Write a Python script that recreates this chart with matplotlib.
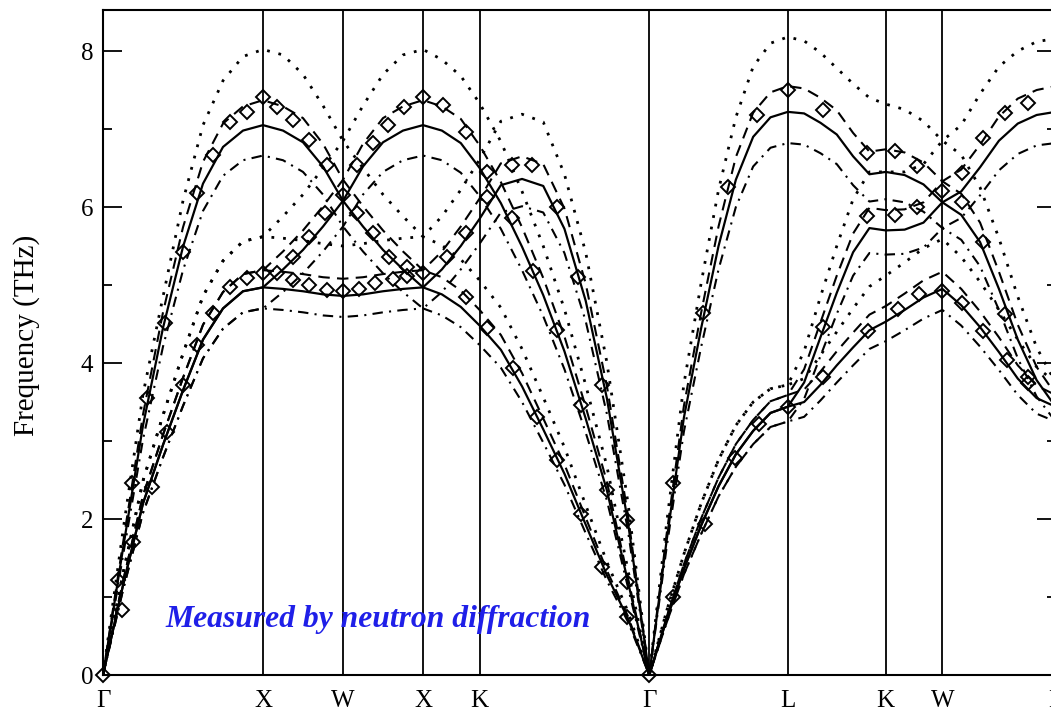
import numpy as np
import matplotlib.pyplot as plt
from matplotlib.ticker import MultipleLocator

plt.rcParams['font.family'] = ['Liberation Serif', 'DejaVu Serif']

# high-symmetry points along the path and sample counts per segment
sym_k = [0, 1, 1.5, 2, 2.354, 3.414, 4.280, 4.892, 5.246, 5.953]
sym_lab = ['Γ', 'X', 'W', 'X', 'K', 'Γ', 'L', 'K', 'W', 'L']
n_sub = [8, 4, 4, 3, 8, 8, 6, 3, 6]

k = [0.0]
for a, b, n in zip(sym_k[:-1], sym_k[1:], n_sub):
    k += list(np.linspace(a, b, n + 1)[1:])
k = np.array(k)

# three branches (a, b, c) for each calculation, values in THz
solid_a = [0, 1.62, 3.2, 4.45, 5.49, 6.3, 6.77, 6.98, 7.05,
           6.98, 6.83, 6.52, 6.08,
           5.75, 5.45, 5.2, 4.97,
           5.2, 5.5, 5.85,
           6.28, 6.36, 6.27, 5.72, 4.8, 3.55, 1.95, 0,
           1.72, 3.3, 4.45, 5.5, 6.35, 6.9, 7.15, 7.22,
           7.2, 7.08, 6.93, 6.65, 6.42, 6.45,
           6.41, 6.29, 6.06,
           5.9, 5.55, 4.95, 4.3, 3.78, 3.44]
solid_b = [0, 1.15, 2.2, 2.95, 3.65, 4.3, 4.7, 4.92, 4.97,
           5.2, 5.45, 5.75, 6.08,
           6.52, 6.83, 6.98, 7.05,
           6.98, 6.82, 6.5,
           6.05, 5.49, 4.87, 4.15, 3.29, 2.37, 1.19, 0,
           0.71, 1.36, 1.92, 2.42, 2.83, 3.13, 3.36, 3.44,
           3.75, 4.33, 4.9, 5.42, 5.73, 5.7,
           5.71, 5.8, 6.06,
           6.2, 6.51, 6.85, 7.07, 7.18, 7.22]
solid_c = [0, 1.15, 2.2, 2.95, 3.65, 4.3, 4.7, 4.92, 4.97,
           4.95, 4.92, 4.88, 4.86,
           4.88, 4.92, 4.95, 4.97,
           4.88, 4.72, 4.48,
           4.17, 3.7, 3.15, 2.58, 1.93, 1.28, 0.72, 0,
           0.71, 1.36, 1.92, 2.42, 2.83, 3.13, 3.36, 3.44,
           3.5, 3.72, 3.97, 4.2, 4.42, 4.53,
           4.68, 4.84, 4.95,
           4.74, 4.46, 4.14, 3.8, 3.55, 3.44]

dot_a = [0, 1.85, 3.6, 4.85, 6.08, 7.05, 7.62, 7.93, 8.02,
         7.95, 7.7, 7.3, 6.85,
         6.5, 6.16, 5.88, 5.62,
         5.88, 6.22, 6.61,
         7.1, 7.19, 7.09, 6.42, 5.42, 4.01, 2.2, 0,
         1.94, 3.73, 5.03, 6.22, 7.15, 7.8, 8.1, 8.18,
         8.13, 7.98, 7.78, 7.58, 7.4, 7.32,
         7.25, 7.1, 6.85,
         6.67, 6.25, 5.6, 4.85, 4.2, 3.75]
dot_b = [0, 1.3, 2.49, 3.33, 4.12, 4.86, 5.31, 5.56, 5.62,
         5.88, 6.16, 6.5, 6.85,
         7.3, 7.7, 7.95, 8.02,
         7.89, 7.68, 7.33,
         6.84, 6.2, 5.5, 4.69, 3.72, 2.68, 1.34, 0,
         0.82, 1.55, 2.2, 2.76, 3.2, 3.5, 3.67, 3.72,
         4.15, 4.85, 5.5, 6.1, 6.45, 6.45,
         6.45, 6.55, 6.85,
         7.05, 7.45, 7.8, 8.0, 8.12, 8.16]
dot_c = [0, 1.3, 2.49, 3.33, 4.12, 4.86, 5.31, 5.56, 5.62,
         5.6, 5.57, 5.53, 5.5,
         5.53, 5.57, 5.6, 5.62,
         5.51, 5.33, 5.06,
         4.71, 4.18, 3.56, 2.92, 2.18, 1.45, 0.81, 0,
         0.82, 1.55, 2.2, 2.76, 3.2, 3.5, 3.67, 3.72,
         3.8, 4.1, 4.4, 4.7, 4.98, 5.12,
         5.29, 5.47, 5.59,
         5.36, 5.04, 4.68, 4.3, 3.95, 3.75]

dash_a = [0, 1.69, 3.34, 4.65, 5.74, 6.58, 7.07, 7.29, 7.37,
          7.29, 7.14, 6.81, 6.35,
          6.01, 5.7, 5.43, 5.19,
          5.43, 5.75, 6.11,
          6.56, 6.65, 6.55, 5.98, 5.02, 3.71, 2.04, 0,
          1.8, 3.45, 4.65, 5.75, 6.64, 7.21, 7.47, 7.55,
          7.52, 7.4, 7.24, 6.95, 6.71, 6.74,
          6.7, 6.57, 6.33,
          6.17, 5.8, 5.17, 4.49, 3.95, 3.6]
dash_b = [0, 1.2, 2.3, 3.08, 3.81, 4.49, 4.91, 5.14, 5.19,
          5.43, 5.7, 6.01, 6.35,
          6.81, 7.14, 7.29, 7.37,
          7.29, 7.13, 6.79,
          6.32, 5.74, 5.09, 4.34, 3.44, 2.48, 1.24, 0,
          0.74, 1.42, 2.01, 2.53, 2.96, 3.27, 3.51, 3.59,
          3.92, 4.52, 5.12, 5.66, 5.99, 5.96,
          5.97, 6.06, 6.33,
          6.48, 6.8, 7.16, 7.39, 7.5, 7.55]
dash_c = [0, 1.2, 2.3, 3.08, 3.81, 4.49, 4.91, 5.14, 5.19,
          5.17, 5.14, 5.1, 5.08,
          5.1, 5.14, 5.17, 5.19,
          5.1, 4.93, 4.68,
          4.36, 3.87, 3.29, 2.7, 2.02, 1.34, 0.75, 0,
          0.74, 1.42, 2.01, 2.53, 2.96, 3.27, 3.51, 3.59,
          3.66, 3.89, 4.15, 4.39, 4.62, 4.73,
          4.89, 5.06, 5.17,
          4.95, 4.66, 4.33, 3.97, 3.71, 3.59]

dd_a = [0, 1.53, 3.02, 4.21, 5.19, 5.95, 6.4, 6.6, 6.66,
        6.6, 6.45, 6.16, 5.75,
        5.43, 5.15, 4.91, 4.7,
        4.91, 5.2, 5.53,
        5.93, 6.01, 5.93, 5.41, 4.54, 3.35, 1.84, 0,
        1.63, 3.12, 4.21, 5.2, 6.0, 6.52, 6.76, 6.82,
        6.8, 6.69, 6.55, 6.28, 6.07, 6.1,
        6.06, 5.94, 5.73,
        5.58, 5.24, 4.68, 4.06, 3.57, 3.25]
dd_b = [0, 1.09, 2.08, 2.79, 3.45, 4.06, 4.44, 4.65, 4.7,
        4.91, 5.15, 5.43, 5.75,
        6.16, 6.45, 6.6, 6.66,
        6.6, 6.44, 6.14,
        5.72, 5.19, 4.6, 3.92, 3.11, 2.24, 1.12, 0,
        0.67, 1.29, 1.81, 2.29, 2.67, 2.96, 3.18, 3.25,
        3.54, 4.09, 4.63, 5.12, 5.41, 5.39,
        5.4, 5.48, 5.73,
        5.86, 6.15, 6.47, 6.68, 6.79, 6.82]
dd_c = [0, 1.09, 2.08, 2.79, 3.45, 4.06, 4.44, 4.65, 4.7,
        4.68, 4.65, 4.61, 4.59,
        4.61, 4.65, 4.68, 4.7,
        4.61, 4.46, 4.23,
        3.94, 3.5, 2.98, 2.44, 1.82, 1.21, 0.68, 0,
        0.67, 1.29, 1.81, 2.29, 2.67, 2.96, 3.18, 3.25,
        3.31, 3.52, 3.75, 3.97, 4.18, 4.28,
        4.42, 4.57, 4.68,
        4.48, 4.21, 3.91, 3.59, 3.35, 3.25]

# neutron data (diamonds)
exp_k = [0, 0.094, 0.181, 0.275, 0.388, 0.5, 0.588, 0.688, 0.794, 0.9, 1.0,
         0.119, 0.188, 0.306, 0.4, 0.5, 0.588, 0.688, 0.794, 0.9, 1.0,
         1.09, 1.19, 1.29, 1.4, 1.5, 1.19, 1.29, 1.39,
         1.09, 1.19, 1.29, 1.4, 1.5,
         1.59, 1.69, 1.78, 1.88, 2.0, 1.59, 1.69, 1.79, 1.9, 2.0,
         1.6, 1.7, 1.81, 1.9,
         2.125, 2.27, 2.4, 2.15, 2.27, 2.4, 2.27, 2.4,
         2.556, 2.684, 2.8375, 2.97, 3.12, 3.275,
         2.556, 2.69, 2.8375, 2.99, 3.15, 3.275,
         2.5625, 2.7125, 2.84, 2.99, 3.12, 3.275, 3.414,
         3.5625, 3.75, 3.906, 4.0875, 4.28,
         3.5625, 3.76, 3.95, 4.1, 4.28,
         4.5, 4.775, 4.95, 5.09, 5.246,
         4.5, 4.775, 4.95, 5.09,
         4.5, 4.78, 4.97, 5.1, 5.246,
         5.37, 5.5, 5.64, 5.78, 5.37, 5.5, 5.64, 5.78,
         5.37, 5.5, 5.65, 5.78]
exp_f = [0, 1.22, 2.46, 3.55, 4.51, 5.42, 6.18, 6.67, 7.09, 7.22, 7.41,
         0.83, 1.7, 2.41, 3.12, 3.72, 4.23, 4.64, 4.97, 5.09, 5.15,
         7.28, 7.12, 6.86, 6.54, 6.15, 5.36, 5.62, 5.92,
         5.15, 5.06, 5.0, 4.94, 4.92,
         6.54, 6.82, 7.05, 7.28, 7.41, 5.92, 5.67, 5.36, 5.23, 5.15,
         4.95, 5.02, 5.08, 5.12,
         7.31, 6.96, 6.45, 5.36, 5.67, 6.13, 4.85, 4.45,
         6.54, 6.54, 6.0, 5.1, 3.72, 1.99,
         5.86, 5.18, 4.42, 3.46, 2.37, 1.19,
         3.94, 3.31, 2.76, 2.06, 1.39, 0.75, 0,
         2.46, 4.64, 6.26, 7.18, 7.5,
         1.0, 1.94, 2.78, 3.22, 3.44,
         7.24, 6.69, 6.72, 6.52, 6.2,
         4.46, 5.88, 5.9, 6.0,
         3.82, 4.41, 4.69, 4.88, 4.92,
         6.44, 6.88, 7.2, 7.34, 6.07, 5.55, 4.63, 3.82,
         4.77, 4.41, 4.04, 3.75]

fig = plt.figure(figsize=(10.51, 7.16), dpi=100)
ax = fig.add_axes([103 / 1051, 41 / 716, 952.5 / 1051, 665 / 716])

for xk in sym_k:
    ax.axvline(xk, color='k', lw=1.3, zorder=1)

for y in (dot_a, dot_b, dot_c):
    ax.plot(k, y, color='k', lw=2.0, ls=(0, (1, 3.2)), zorder=2)
for y in (dash_a, dash_b, dash_c):
    ax.plot(k, y, color='k', lw=1.5, ls=(0, (5.5, 3.5)), zorder=2)
for y in (dd_a, dd_b, dd_c):
    ax.plot(k, y, color='k', lw=1.5, ls=(0, (5, 3, 1, 3)), zorder=2)
for y in (solid_a, solid_b, solid_c):
    ax.plot(k, y, color='k', lw=1.6, zorder=3)

ax.plot(exp_k, exp_f, ls='none', marker='D', ms=7.5, mfc='none',
        mec='k', mew=1.4, clip_on=False, zorder=4)

ax.text(0.3875, 0.615, 'Measured by neutron diffraction', fontsize=22.8,
        fontweight='bold', fontstyle='italic', color='#1f1fe8', zorder=5)

ax.set_xlim(0, 5.953)
ax.set_ylim(0, 8.526)
ax.set_xticks(sym_k)
ax.set_xticklabels(sym_lab, fontsize=18)
ax.tick_params(axis='x', length=0, pad=11)
ax.yaxis.set_major_locator(MultipleLocator(2))
ax.yaxis.set_minor_locator(MultipleLocator(1))
ax.tick_params(axis='y', which='both', direction='in', left=True, right=True,
               labelsize=18, pad=7, width=1.3)
ax.tick_params(axis='y', which='major', length=14)
ax.tick_params(axis='y', which='minor', length=6.5)
for s in ax.spines.values():
    s.set_linewidth(1.5)

ax.set_ylabel('Frequency (THz)', fontsize=21)
ax.yaxis.set_label_coords(-0.066, 0.511)

fig.savefig('out.png', dpi=100)
